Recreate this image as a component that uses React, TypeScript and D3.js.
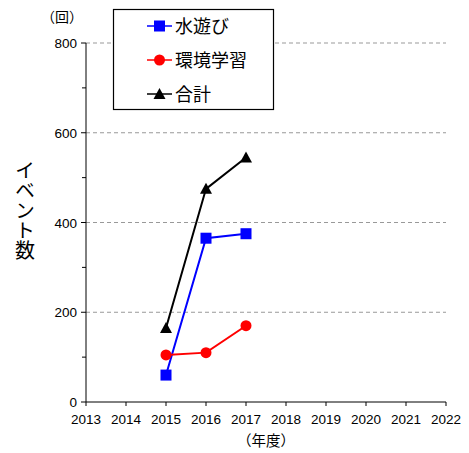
import React from "react";
import * as d3 from "d3";

const years = [2015, 2016, 2017];
const mizuasobi = [60, 365, 375];
const kankyo = [105, 110, 170];
const total = [165, 475, 545];
const xTicks = [2013, 2014, 2015, 2016, 2017, 2018, 2019, 2020, 2021, 2022];
const yTicks = [0, 200, 400, 600, 800];
const yMinor = [100, 300, 500, 700];
const seriesNames = ["水遊び", "環境学習", "合計"];
const yLabel = "イベント数";

const W = 469, H = 453;
const left = 86, right = 446, top = 43, bottom = 402;
const font = "Liberation Sans, Arial, sans-serif";
const cjk = "Noto Sans CJK JP, sans-serif";

export default function App() {
  const x = d3.scaleLinear().domain([2013, 2022]).range([left, right]);
  const y = d3.scaleLinear().domain([0, 800]).range([bottom, top]);
  const line = d3.line<[number, number]>().x(d => x(d[0])).y(d => y(d[1]));
  const series = [
    { name: seriesNames[0], vals: mizuasobi, color: "#0000ff", shape: "square" },
    { name: seriesNames[1], vals: kankyo, color: "#ff0000", shape: "circle" },
    { name: seriesNames[2], vals: total, color: "#000000", shape: "triangle" },
  ];
  const marker = (shape: string, cx: number, cy: number, color: string, key: any) => {
    if (shape === "square") return <rect key={key} x={cx - 5.5} y={cy - 5.5} width={11} height={11} fill={color} />;
    if (shape === "circle") return <circle key={key} cx={cx} cy={cy} r={5.5} fill={color} />;
    return <path key={key} d={`M${cx},${cy - 6}L${cx + 6},${cy + 5}L${cx - 6},${cy + 5}Z`} fill={color} />;
  };
  return (
    <svg width={W} height={H} style={{ position: "absolute", left: 0, top: 0, background: "#fff" }}>
      {yTicks.filter(t => t > 0).map(t => (
        <line key={t} x1={left} x2={right} y1={y(t)} y2={y(t)} stroke="#999" strokeDasharray="4,3" strokeWidth={1} />
      ))}
      <line x1={left} x2={left} y1={top} y2={bottom} stroke="#000" />
      <line x1={left} x2={right} y1={bottom} y2={bottom} stroke="#000" />
      {yTicks.map(t => (
        <g key={t}>
          <line x1={left - 5} x2={left} y1={y(t)} y2={y(t)} stroke="#000" />
          <text x={left - 9} y={y(t) + 5} textAnchor="end" fontSize={13.5} fontFamily={font}>{t}</text>
        </g>
      ))}
      {yMinor.map(t => (
        <line key={t} x1={left - 4} x2={left} y1={y(t)} y2={y(t)} stroke="#000" />
      ))}
      {xTicks.map(t => (
        <g key={t}>
          <line x1={x(t)} x2={x(t)} y1={bottom} y2={bottom + 4} stroke="#000" />
          <text x={x(t)} y={bottom + 22} textAnchor="middle" fontSize={13.5} fontFamily={font}>{t}</text>
        </g>
      ))}
      <text x={266} y={446} textAnchor="middle" fontSize={14.5} fontFamily={cjk}>（年度）</text>
      <text x={62} y={22} textAnchor="middle" fontSize={14} fontFamily={cjk}>（回）</text>
      <text x={25} y={160} fontSize={20} fontFamily={cjk}
        style={{ writingMode: "vertical-rl", textOrientation: "upright" } as any}>{yLabel}</text>
      {series.map(s => (
        <g key={s.name}>
          <path d={line(years.map((yr, i) => [yr, s.vals[i]]) as [number, number][]) || ""} fill="none" stroke={s.color} strokeWidth={2} />
          {years.map((yr, i) => marker(s.shape, x(yr), y(s.vals[i]), s.color, i))}
        </g>
      ))}
      <rect x={113.5} y={9.5} width={160} height={100} fill="#fff" stroke="#000" strokeWidth={1.2} />
      {series.map((s, i) => {
        const ly = 26 + i * 34;
        return (
          <g key={s.name}>
            <line x1={147} x2={172} y1={ly} y2={ly} stroke={s.color} strokeWidth={1.5} />
            {marker(s.shape, 159.5, ly, s.color, "m")}
            <text x={175} y={ly + 7} fontSize={18} fontFamily={cjk}>{s.name}</text>
          </g>
        );
      })}
    </svg>
  );
}
